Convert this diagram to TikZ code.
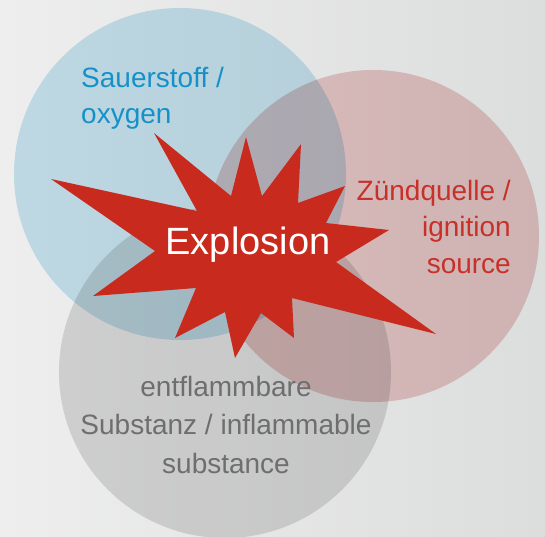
\documentclass[tikz,border=0pt]{standalone}
\usepackage{fontspec}
\setmainfont{Liberation Sans}
\definecolor{bgleft}{RGB}{238,238,238}
\definecolor{bgright}{RGB}{220,221,221}
\definecolor{oxyfill}{RGB}{204,233,245}
\definecolor{ignfill}{RGB}{240,206,206}
\definecolor{subfill}{RGB}{223,223,223}
\definecolor{blastred}{RGB}{200,42,30}
\definecolor{oxytext}{RGB}{22,145,200}
\definecolor{igntext}{RGB}{200,48,42}
\definecolor{subtext}{RGB}{110,110,110}
\begin{document}
\begin{tikzpicture}[x=1pt,y=-1pt,
  ring/.style={blend mode=multiply},
  ringtext/.style={inner sep=0pt,font=\fontsize{28}{36.5}\selectfont}]
\useasboundingbox (0,0) rectangle (545,536);
\shade[left color=bgleft,right color=bgright] (0,0) rectangle (545,536);
% the three circles
\coordinate (oxy) at (180,174);
\coordinate (ign) at (373,236);
\coordinate (sub) at (225,372);
\fill[ring,oxyfill] (oxy) circle (166pt);
\fill[ring,ignfill] (ign) circle (166pt);
\fill[ring,subfill] (sub) circle (166pt);
% the star
\fill[blastred] (51,179) -- (197,211) -- (154,133) -- (231,196) -- (246,137) -- (262,196)
  -- (301,144) -- (298,203) -- (345,186) -- (326,223) -- (389,230) -- (336,262)
  -- (436,334) -- (292,298) -- (294,338) -- (261,313) -- (235,358) -- (225,312)
  -- (175,338) -- (196,288) -- (93,296) -- (155,251) -- cycle;
% base = baseline of the last line
\node[ringtext,anchor=base west,align=left,text=oxytext] (oxygen) at (81,123.5) {Sauerstoff /\\oxygen};
\node[ringtext,anchor=base east,align=right,text=igntext] (ignition) at (511,273) {Zündquelle /\\ignition\\source};
\node[ringtext,anchor=base,align=center,text=subtext,font=\fontsize{28}{38.5}\selectfont] (substance) at (226,473) {entflammbare\\Substanz / inflammable\\substance};
\node[inner sep=0pt,anchor=base,text=white,font=\fontsize{38}{40}\selectfont] (explosion) at (248,254) {Explosion};
\end{tikzpicture}
\end{document}
